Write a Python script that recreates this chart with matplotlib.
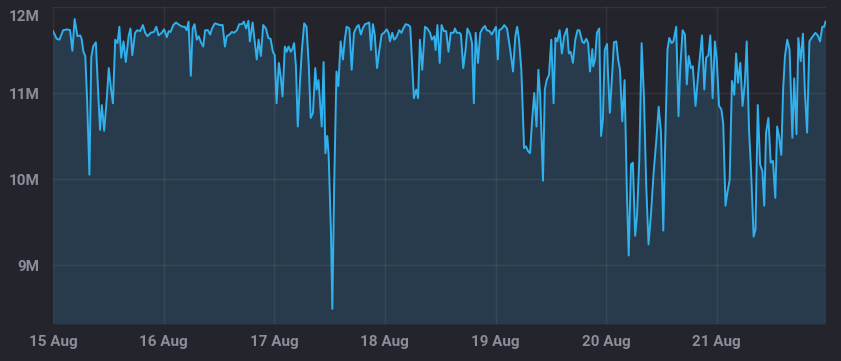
import matplotlib
matplotlib.use("Agg")
import matplotlib.pyplot as plt
import matplotlib.transforms as mtransforms
import numpy as np

# hours since 15 Aug 00:00
hours = [0.0, 0.8, 1.4, 2.2, 3.1, 3.7, 4.2, 4.7, 5.3, 5.9, 6.2, 6.6, 7.0, 7.4, 7.9, 8.3, 8.7, 9.3, 9.7,
         10.2, 10.6, 11.1, 11.7, 12.1, 12.6, 13.0, 13.5, 14.0, 14.4, 14.8, 15.3, 15.8, 16.4, 16.8, 17.2,
         17.8, 18.3, 18.9, 19.5, 20.0, 20.5, 21.2, 21.9, 22.4, 22.9, 23.6, 24.1, 24.7, 25.1, 25.5, 26.1,
         26.7, 27.4, 28.1,
         28.6, 29.0, 29.4, 29.9, 30.3, 30.7, 31.2, 31.6, 32.1, 32.6, 33.0, 33.6, 34.1, 34.5, 35.1, 35.7,
         36.2, 36.8, 37.3, 37.7, 38.3, 38.8, 39.3, 39.9, 40.4, 41.0, 41.4, 41.9, 42.4, 42.7, 43.3, 43.8,
         44.2, 44.6, 45.1, 45.6, 46.2, 46.7, 47.2, 47.7, 48.1, 48.5, 49.0, 49.4, 49.8, 50.3, 50.7, 51.1,
         51.6, 52.0, 52.3, 52.7, 53.1, 53.6, 54.0, 54.5, 55.0, 55.5, 55.9, 56.4, 56.9,
         57.2, 57.6, 57.9, 58.3, 58.7, 59.1, 59.5, 59.8, 60.3, 60.6, 61.0, 61.5, 61.9, 62.4, 62.9, 63.3,
         63.7, 64.3, 64.8, 65.3, 65.9, 66.3, 66.8, 67.2, 67.7, 68.2, 68.6, 69.0, 69.4, 69.8, 70.3, 70.8,
         71.3, 71.8, 72.4, 72.8, 73.1, 73.6, 74.0, 74.4, 74.9, 75.1, 75.6, 76.0, 76.5, 77.1, 77.5, 77.9,
         78.3, 78.8, 79.2, 79.6, 80.1, 80.7, 81.2, 81.8, 82.2, 82.7, 83.0, 83.4, 83.9, 84.3,
         84.8, 85.3, 85.8, 86.3, 86.9, 87.2, 87.6, 88.2, 88.5, 89.0, 89.5, 89.9, 90.5, 90.9, 91.3, 91.7,
         92.2, 92.7, 93.2, 93.7, 94.1, 94.7, 95.2, 95.7, 96.1, 96.5, 96.8, 97.4, 97.9, 98.5, 99.2, 99.8,
         100.3, 100.7, 101.1, 101.6, 101.9, 102.2, 102.6, 103.1, 103.5, 103.9, 104.4, 104.9, 105.3, 105.7,
         106.3, 106.7, 107.1, 107.6, 108.1, 108.6, 109.0, 109.4, 109.9, 110.4, 110.9, 111.5, 111.9, 112.3,
         112.8,
         113.3, 113.8, 114.2, 114.8, 115.2, 115.7, 116.1, 116.5, 117.0, 117.2, 117.6, 118.0, 118.5, 118.9,
         119.3, 119.7, 120.2, 120.4, 120.8, 121.2, 121.7, 122.2, 122.6, 123.0, 123.5, 124.0, 124.5, 124.9,
         125.4, 125.8, 126.3, 126.7, 127.2, 127.7, 128.2, 128.7, 129.2, 129.7, 130.3, 130.9, 131.4, 131.9,
         132.4, 132.9, 133.3, 133.7, 134.2, 134.6, 135.2, 135.7, 136.1, 136.6, 137.1, 137.5, 137.9, 138.4,
         138.8, 139.4, 140.0, 140.8,
         141.3, 141.7, 142.2, 142.6, 143.1, 143.6, 144.0, 144.5, 145.0, 145.4, 145.9, 146.3, 146.8, 147.3,
         147.8, 148.2, 148.6, 149.1, 149.6, 150.1, 150.5, 151.0, 151.4, 152.0, 152.4, 152.9, 153.4, 153.9,
         154.3, 154.7, 155.2, 155.7, 156.2, 156.7, 157.1, 157.5, 158.0, 158.4, 158.8, 159.3, 159.8, 160.4,
         160.8, 161.3, 161.7, 162.2, 162.7, 163.1, 163.6, 164.1, 164.7, 165.4, 165.9, 166.4, 166.9, 167.3,
         167.6]

# values in millions
values = [11.72, 11.63, 11.62, 11.73, 11.74, 11.73, 11.49, 11.86, 11.66, 11.67, 11.63, 11.48, 11.43, 10.92,
          10.05, 11.41, 11.54, 11.59, 11.12, 10.57, 10.86, 10.56, 10.96, 11.29, 11.04, 10.88, 11.62, 11.58,
          11.77, 11.41, 11.60, 11.36, 11.66, 11.75, 11.44, 11.70, 11.73, 11.72, 11.79, 11.70, 11.66, 11.70,
          11.71, 11.77, 11.67, 11.70, 11.74, 11.65, 11.72, 11.71, 11.79, 11.82, 11.79, 11.77,
          11.77, 11.73, 11.83, 11.20, 11.75, 11.80, 11.62, 11.66, 11.59, 11.54, 11.73, 11.73, 11.68, 11.75,
          11.81, 11.80, 11.79, 11.79, 11.54, 11.66, 11.68, 11.71, 11.70, 11.73, 11.80, 11.80, 11.83, 11.75,
          11.84, 11.60, 11.82, 11.58, 11.39, 11.62, 11.43, 11.79, 11.75, 11.64, 11.63, 11.48, 11.44, 10.88,
          11.35, 11.19, 10.96, 11.54, 11.48, 11.54, 11.48, 11.52, 11.58, 11.31, 10.61, 11.15, 11.50, 11.81,
          11.77, 11.31, 10.71, 10.77, 11.29,
          11.04, 11.15, 10.92, 10.61, 11.36, 10.30, 10.50, 10.28, 9.38, 8.49, 9.92, 11.25, 11.08, 11.60,
          11.39, 11.62, 11.77, 11.75, 11.27, 11.70, 11.77, 11.79, 11.68, 11.75, 11.80, 11.81, 11.82, 11.50,
          11.80, 11.68, 11.29, 11.50, 11.68, 11.70, 11.74, 11.70, 11.60, 11.70, 11.62, 11.64, 11.70, 11.73,
          11.70, 11.75, 11.80, 11.79, 11.77, 11.35, 10.94, 11.04, 10.94, 11.62, 11.27, 11.77, 11.75, 11.70,
          11.62, 11.66, 11.50, 11.79, 11.35, 11.79,
          11.72, 11.72, 11.48, 11.70, 11.70, 11.75, 11.70, 11.70, 11.68, 11.29, 11.50, 11.75, 11.68, 11.58,
          10.88, 11.70, 11.35, 11.70, 11.75, 11.78, 11.73, 11.72, 11.68, 11.73, 11.77, 11.39, 11.73, 11.75,
          11.79, 11.75, 11.50, 11.25, 11.66, 11.77, 11.62, 11.27, 10.81, 10.36, 10.38, 10.32, 10.30, 10.65,
          11.00, 10.61, 11.27, 10.96, 9.98, 11.04, 11.15, 11.21, 11.62, 10.88, 11.64, 11.60, 11.73, 11.46,
          11.66, 11.75, 11.46, 11.48, 11.35,
          11.62, 11.73, 11.73, 11.60, 11.58, 11.63, 11.58, 11.25, 11.51, 11.31, 11.39, 11.70, 11.75, 10.50,
          10.69, 11.50, 11.57, 11.23, 10.77, 11.12, 11.59, 11.60, 11.39, 11.27, 10.67, 11.15, 9.84, 9.11,
          10.17, 10.19, 9.34, 9.57, 10.23, 11.58, 10.96, 9.92, 9.24, 9.57, 10.07, 10.46, 10.84, 10.54,
          9.40, 10.61, 11.50, 11.64, 11.58, 11.60, 11.77, 10.73, 11.31, 11.73, 11.68, 11.10, 11.43, 11.29,
          11.31, 10.85, 11.23, 11.67,
          11.04, 11.41, 11.44, 11.67, 10.94, 11.60, 11.39, 10.85, 10.81, 10.65, 9.69, 9.84, 9.99, 11.14,
          10.98, 11.46, 11.12, 11.35, 10.85, 11.12, 11.60, 10.57, 10.15, 9.33, 9.41, 10.86, 10.17, 10.09,
          9.69, 10.54, 10.71, 10.19, 10.21, 9.78, 10.61, 10.50, 10.28, 11.04, 11.43, 11.62, 11.50, 10.48,
          11.17, 10.52, 11.64, 11.37, 11.69, 11.04, 10.54, 11.60, 11.65, 11.70, 11.67, 11.60, 11.77, 11.77,
          11.83]

x_ticks = [0, 24, 48, 72, 96, 120, 144]
x_labels = ["15 Aug", "16 Aug", "17 Aug", "18 Aug", "19 Aug", "20 Aug", "21 Aug"]
y_ticks = [9, 10, 11, 12]
y_labels = ["9M", "10M", "11M", "12M"]

BG = "#24242c"
FILL = "#273b4c"
LINE = "#30b0ec"
TXT = "#8c8c9b"

plt.rcParams['font.family'] = ['Roboto', 'DejaVu Sans']

fig = plt.figure(figsize=(8.41, 3.61), dpi=100, facecolor=BG)
ax = fig.add_axes([53/841, 1 - 324/361, (826 - 53)/841, (324 - 7)/361])
ax.set_facecolor(BG)

ymin = 8.314
x = np.array(hours)
y = np.array(values)
ax.fill_between(x, y, ymin, color=FILL, linewidth=0, zorder=1)
ax.plot(x, y, color=LINE, lw=1.4, zorder=3)

ax.set_xlim(0, 167.7)
ax.set_ylim(ymin, 12)
ax.set_xticks(x_ticks)
ax.set_xticklabels(x_labels)
ax.set_yticks(y_ticks)
ax.set_yticklabels(y_labels)

ax.grid(True, color="white", alpha=0.07, lw=1.0, zorder=2)
ax.set_axisbelow(False)
for s in ax.spines.values():
    s.set_visible(False)
ax.tick_params(axis='both', length=0, colors=TXT, labelsize=11)
ax.tick_params(axis='y', pad=10)
ax.tick_params(axis='x', pad=8)
for lbl in ax.get_xticklabels() + ax.get_yticklabels():
    lbl.set_fontweight('bold')
for lbl in ax.get_yticklabels():
    if lbl.get_text() == "12M":
        lbl.set_va("top")
        lbl.set_transform(lbl.get_transform() +
                          mtransforms.ScaledTranslation(0, -2/72, fig.dpi_scale_trans))

fig.savefig("out.png", dpi=100, facecolor=BG)
